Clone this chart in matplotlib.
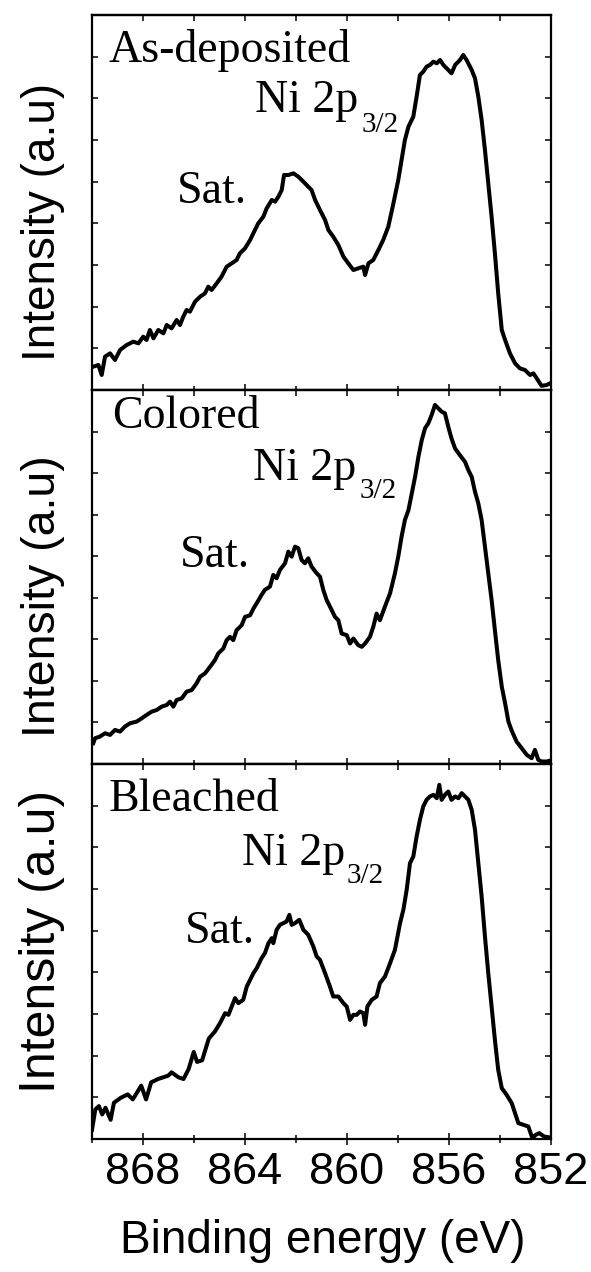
import matplotlib
matplotlib.use("Agg")
import matplotlib.pyplot as plt
from matplotlib.ticker import MultipleLocator, NullFormatter

# ---------------- data ----------------
energy_asdep = [869.95, 869.75, 869.62, 869.49, 869.29, 869.10, 868.90, 868.64, 868.38, 868.18,
                867.99, 867.86, 867.73, 867.59, 867.40, 867.20, 867.07, 866.88, 866.68, 866.55,
                866.42, 866.29, 866.16, 865.96, 865.76, 865.57, 865.44, 865.31, 865.11, 864.92,
                864.72, 864.52, 864.33, 864.20, 864.00, 863.80, 863.61, 863.48, 863.28, 863.15,
                862.95, 862.82, 862.69, 862.56, 862.47, 862.30, 862.10, 861.91, 861.71, 861.52,
                861.39, 861.25, 861.06, 860.86, 860.73, 860.54, 860.34, 860.14, 859.95, 859.75,
                859.56, 859.36, 859.29, 859.16, 858.97, 858.77, 858.58, 858.38, 858.18, 857.99,
                857.86, 857.73, 857.59, 857.40, 857.27, 857.14, 857.01, 856.88, 856.75, 856.61,
                856.48, 856.35, 856.22, 856.09, 855.90, 855.76, 855.57, 855.44, 855.31, 855.11,
                854.98, 854.85, 854.72, 854.59, 854.46, 854.33, 854.20, 854.07, 853.93, 853.80,
                853.61, 853.41, 853.22, 853.02, 852.82, 852.69, 852.56, 852.37, 852.17, 852.04]
intensity_asdep = [0.56, 0.60, 0.36, 0.80, 0.88, 0.72, 0.96, 1.08, 1.16, 1.12,
                   1.28, 1.20, 1.44, 1.24, 1.44, 1.36, 1.56, 1.48, 1.68, 1.56,
                   1.76, 1.92, 1.88, 2.12, 2.24, 2.32, 2.48, 2.40, 2.56, 2.72,
                   2.96, 3.04, 3.12, 3.28, 3.40, 3.60, 3.84, 4.00, 4.16, 4.36,
                   4.56, 4.52, 4.64, 4.80, 5.16, 5.16, 5.20, 5.12, 5.00, 4.88,
                   4.80, 4.56, 4.32, 4.08, 3.84, 3.68, 3.48, 3.20, 3.04, 2.88,
                   2.92, 2.96, 2.76, 3.04, 3.12, 3.36, 3.60, 3.92, 4.48, 5.04,
                   5.52, 6.00, 6.32, 6.56, 7.04, 7.56, 7.64, 7.76, 7.80, 7.88,
                   7.84, 7.92, 7.80, 7.72, 7.60, 7.80, 7.92, 8.04, 7.92, 7.68,
                   7.48, 7.04, 6.48, 5.76, 4.96, 4.16, 3.28, 2.32, 1.44, 1.20,
                   0.88, 0.64, 0.52, 0.48, 0.36, 0.40, 0.28, 0.10, 0.12, 0.16]

energy_colored = [869.95, 869.88, 869.69, 869.49, 869.29, 869.10, 868.90, 868.71, 868.51, 868.25,
                  868.05, 867.86, 867.66, 867.46, 867.27, 867.07, 866.94, 866.81, 866.68, 866.48,
                  866.29, 866.09, 865.90, 865.76, 865.57, 865.37, 865.18, 865.05, 864.85, 864.72,
                  864.59, 864.46, 864.33, 864.13, 864.00, 863.80, 863.67, 863.54, 863.35, 863.22,
                  863.02, 862.89, 862.76, 862.63, 862.43, 862.30, 862.17, 862.04, 861.91, 861.78,
                  861.65, 861.52, 861.39, 861.19, 861.06, 860.93, 860.80, 860.67, 860.47, 860.34,
                  860.21, 860.01, 859.88, 859.75, 859.56, 859.42, 859.29, 859.10, 858.97, 858.84,
                  858.71, 858.51, 858.31, 858.12, 857.99, 857.86, 857.73, 857.59, 857.46, 857.33,
                  857.20, 857.07, 856.94, 856.81, 856.68, 856.55, 856.42, 856.29, 856.16, 856.03,
                  855.90, 855.76, 855.57, 855.37, 855.24, 855.11, 854.98, 854.85, 854.72, 854.59,
                  854.46, 854.33, 854.20, 854.07, 853.93, 853.80, 853.67, 853.54, 853.35, 853.15,
                  852.95, 852.76, 852.63, 852.50, 852.37, 852.17, 852.04]
intensity_colored = [0.50, 0.62, 0.66, 0.74, 0.70, 0.82, 0.78, 0.90, 0.98, 1.02,
                     1.10, 1.18, 1.26, 1.30, 1.38, 1.42, 1.50, 1.38, 1.54, 1.58,
                     1.74, 1.78, 1.94, 2.10, 2.18, 2.34, 2.50, 2.66, 2.78, 2.98,
                     3.06, 2.98, 3.22, 3.34, 3.54, 3.58, 3.74, 3.87, 4.07, 4.19,
                     4.27, 4.55, 4.47, 4.67, 4.83, 5.11, 4.99, 5.23, 5.19, 4.91,
                     4.83, 4.95, 4.75, 4.59, 4.51, 4.19, 3.95, 3.79, 3.54, 3.46,
                     3.14, 3.10, 2.90, 3.02, 2.86, 2.82, 2.90, 3.06, 3.30, 3.62,
                     3.46, 3.79, 4.11, 4.59, 4.99, 5.47, 5.87, 6.11, 6.51, 6.91,
                     7.39, 7.79, 8.08, 8.20, 8.40, 8.64, 8.56, 8.48, 8.44, 8.12,
                     7.83, 7.59, 7.43, 7.27, 7.07, 6.91, 6.55, 6.27, 5.87, 5.23,
                     4.59, 3.95, 3.22, 2.50, 1.86, 1.46, 1.02, 0.80, 0.54, 0.38,
                     0.22, 0.14, 0.34, 0.10, 0.06, 0.06, 0.08]

energy_bleached = [870.00, 869.87, 869.73, 869.60, 869.47, 869.27, 869.14, 868.87, 868.60, 868.40,
                   868.07, 867.88, 867.68, 867.41, 867.01, 866.88, 866.61, 866.41, 866.21, 866.01,
                   865.88, 865.68, 865.42, 865.18, 864.98, 864.78, 864.65, 864.52, 864.39, 864.26,
                   864.07, 863.93, 863.80, 863.67, 863.54, 863.35, 863.22, 863.08, 862.95, 862.89,
                   862.76, 862.63, 862.50, 862.37, 862.26, 862.17, 862.04, 861.87, 861.71, 861.52,
                   861.32, 861.19, 861.06, 860.86, 860.67, 860.54, 860.34, 860.14, 860.01, 859.88,
                   859.75, 859.62, 859.49, 859.36, 859.29, 859.20, 859.03, 858.84, 858.71, 858.51,
                   858.31, 858.12, 857.92, 857.79, 857.66, 857.53, 857.40, 857.27, 857.14, 857.01,
                   856.88, 856.75, 856.61, 856.48, 856.38, 856.29, 856.16, 856.03, 855.90, 855.76,
                   855.63, 855.50, 855.37, 855.24, 855.11, 854.98, 854.85, 854.72, 854.59, 854.46,
                   854.33, 854.20, 854.07, 853.93, 853.74, 853.54, 853.41, 853.28, 853.08, 852.89,
                   852.73, 852.60, 852.46, 852.27, 852.07]
intensity_bleached = [0.22, 0.71, 0.79, 0.59, 0.75, 0.46, 0.87, 0.99, 1.07, 0.95,
                      1.28, 0.95, 1.36, 1.44, 1.52, 1.60, 1.48, 1.44, 1.68, 2.09,
                      1.85, 1.89, 2.41, 2.58, 2.78, 3.02, 2.98, 3.18, 3.38, 3.26,
                      3.34, 3.66, 3.82, 3.98, 4.10, 4.34, 4.46, 4.70, 4.82, 4.70,
                      5.02, 5.14, 5.18, 5.22, 5.38, 5.14, 5.18, 5.26, 5.02, 4.90,
                      4.62, 4.38, 4.30, 3.98, 3.66, 3.42, 3.42, 3.26, 3.18, 2.86,
                      2.98, 2.98, 3.06, 3.02, 2.74, 3.18, 3.34, 3.42, 3.74, 3.90,
                      4.22, 4.54, 5.18, 5.50, 5.98, 6.62, 6.78, 7.26, 7.66, 7.98,
                      8.14, 8.22, 8.26, 8.18, 8.50, 8.14, 8.26, 8.34, 8.14, 8.22,
                      8.18, 8.30, 8.22, 8.14, 7.90, 7.42, 6.62, 5.82, 4.86, 3.98,
                      3.18, 2.38, 1.66, 1.22, 1.06, 0.86, 0.62, 0.38, 0.34, 0.30,
                      0.02, 0.10, 0.14, 0.06, 0.04]

panel_names = ["As-deposited", "Colored", "Bleached"]
peak_label = "Ni 2p"
peak_sub = "3/2"
sat_label = "Sat."
ylabel_text = "Intensity (a.u)"
xlabel_text = "Binding energy (eV)"
xtick_values = [868, 864, 860, 856, 852]

series = [(energy_asdep, intensity_asdep),
          (energy_colored, intensity_colored),
          (energy_bleached, intensity_bleached)]

# ---------------- layout ----------------
W, H = 591, 1272
fig = plt.figure(figsize=(W / 100, H / 100), dpi=100)
fig.patch.set_facecolor("white")

left_px, right_px = 92, 551
panel_px = [(15, 390), (390, 764), (764, 1139)]

# text placements (axes fractions) per panel
name_pos = [(0.035, 0.875), (0.043, 0.898), (0.036, 0.875)]
peak_pos = [(0.355, 0.742), (0.351, 0.759), (0.326, 0.731)]
sub_pos = [(0.588, 0.689), (0.584, 0.710), (0.555, 0.682)]
sat_pos = [(0.185, 0.498), (0.192, 0.528), (0.203, 0.522)]
ylab_centers_px = [222, 596, 941]
ylab_sizes = [33, 33.5, 36]

serif = ["Liberation Serif", "DejaVu Serif"]
sans = ["Liberation Sans", "DejaVu Sans"]

axes = []
for i, (top, bot) in enumerate(panel_px):
    ax = fig.add_axes([left_px / W, 1 - bot / H, (right_px - left_px) / W, (bot - top) / H])
    axes.append(ax)
    e, v = series[i]
    ax.plot(e, v, color="black", lw=2.9, solid_joinstyle="round")
    ax.set_xlim(870, 852)
    ax.set_ylim(0, 9)
    for s in ax.spines.values():
        s.set_linewidth(1.6)
    ax.xaxis.set_major_locator(MultipleLocator(4))
    ax.xaxis.set_minor_locator(MultipleLocator(2))
    ax.set_xticks(xtick_values)
    ax.yaxis.set_major_locator(MultipleLocator(1))
    ax.yaxis.set_major_formatter(NullFormatter())
    ax.tick_params(axis="y", which="major", direction="in", left=True, right=True,
                   length=4.5, width=1.1, labelleft=False)
    ax.tick_params(axis="x", which="major", direction="inout", bottom=True, top=False,
                   length=9, width=1.1)
    ax.tick_params(axis="x", which="minor", direction="inout", bottom=True, top=False,
                   length=6, width=1.1)
    # top ticks, inward only
    sec = ax.secondary_xaxis("top")
    sec.xaxis.set_major_locator(MultipleLocator(4))
    sec.xaxis.set_minor_locator(MultipleLocator(2))
    sec.set_xticks(xtick_values)
    sec.tick_params(axis="x", which="major", direction="in", length=4.5, width=1.1, labeltop=False)
    sec.tick_params(axis="x", which="minor", direction="in", length=4, width=1.1)
    sec.spines["top"].set_linewidth(1.6)
    if i < 2:
        ax.tick_params(axis="x", labelbottom=False)
    else:
        ax.set_xticklabels([str(t) for t in xtick_values], family=sans, fontsize=32.5)
        ax.tick_params(axis="x", which="major", pad=5)

    ax.text(*name_pos[i], panel_names[i], transform=ax.transAxes, family=serif,
            fontsize=33, ha="left", va="baseline")
    ax.text(*peak_pos[i], peak_label, transform=ax.transAxes, family=serif,
            fontsize=33, ha="left", va="baseline")
    ax.text(*sub_pos[i], peak_sub, transform=ax.transAxes, family=serif,
            fontsize=21, ha="left", va="baseline")
    ax.text(*sat_pos[i], sat_label, transform=ax.transAxes, family=serif,
            fontsize=33, ha="left", va="baseline")

    fig.text(55 / W, 1 - ylab_centers_px[i] / H, ylabel_text, rotation=90,
             rotation_mode="anchor", ha="center", va="baseline", family=sans,
             fontsize=ylab_sizes[i])

fig.text(323 / W, 1 - 1253 / H, xlabel_text, ha="center", va="baseline",
         family=sans, fontsize=33)

fig.savefig("out.png", dpi=100, facecolor="white")
